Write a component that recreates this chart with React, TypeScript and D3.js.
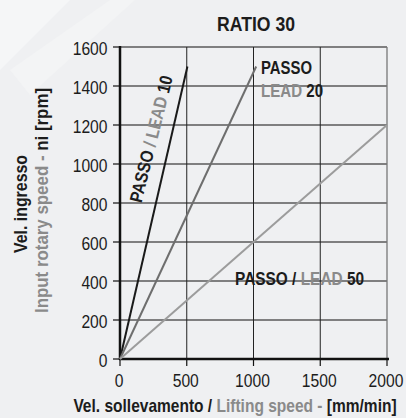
import React, { useLayoutEffect, useRef } from "react";
import * as d3 from "d3";

const xTicks = [0, 500, 1000, 1500, 2000];
const yTicks = [0, 200, 400, 600, 800, 1000, 1200, 1400, 1600];
const leads = ["10", "20", "50"];
const endSpeeds = [505, 1020, 2000];
const endRpm = [1500, 1500, 1200];
const lineColors = ["#1a1a1a", "#6e6e6e", "#9c9c9c"];

const W = 406, H = 418;
const FONT = "'Liberation Sans', Arial, sans-serif";
const DARK = "#1c1c1c";
const GRAY = "#8a8a8a";

type TProps = {
  x: number; y: number; w: number; size?: number; anchor?: string; weight?: string;
  rotate?: number; fill?: string; dy?: string; children: React.ReactNode;
};
// Text squeezed horizontally to a target width (condensed look)
function T({ x, y, w, size = 19, anchor = "start", weight = "normal", rotate = 0, fill = DARK, dy, children }: TProps) {
  const ref = useRef<SVGTextElement>(null);
  const base = `translate(${x},${y}) rotate(${rotate})`;
  useLayoutEffect(() => {
    const el = ref.current;
    if (!el) return;
    const nat = el.getBBox().width;
    const sx = nat > 0 ? w / nat : 1;
    el.setAttribute("transform", `${base} scale(${sx},1)`);
  });
  return (
    <text ref={ref} transform={`${base} scale(0.8,1)`} textAnchor={anchor} fontSize={size}
      fontWeight={weight} fill={fill} dy={dy}>
      {children}
    </text>
  );
}

export default function App() {
  const x = d3.scaleLinear().domain([0, 2000]).range([120, 387]);
  const y = d3.scaleLinear().domain([0, 1600]).range([359, 47]);
  const line = d3.line<[number, number]>().x(d => x(d[0])).y(d => y(d[1]));
  const digitW = (s: string) => s.length * 8.7;

  return (
    <svg width={W} height={H} style={{ position: "absolute", left: 0, top: 0 }} fontFamily={FONT}>
      <rect width={W} height={H} fill="#eff0f2" />
      <polygon points="0,0 70,0 0,70" fill="#f5f6f7" />
      <polygon points="10,70 110,0 135,0 30,95" fill="#f3f4f5" />
      {/* horizontal grid */}
      {yTicks.slice(1).map(t => (
        <line key={"h" + t} x1={x(0)} x2={x(2000)} y1={y(t)} y2={y(t)} stroke="#5a5a5a" strokeWidth={1.3} />
      ))}
      {/* vertical grid */}
      {xTicks.slice(1, 4).map(t => (
        <line key={"v" + t} x1={x(t)} x2={x(t)} y1={y(0)} y2={y(1600)} stroke="#222" strokeWidth={1} />
      ))}
      <line x1={x(2000)} x2={x(2000)} y1={y(0)} y2={y(1600)} stroke="#777" strokeWidth={1.3} />
      {/* axes */}
      <line x1={x(0)} x2={x(0)} y1={y(0) + 1} y2={y(1600) - 1} stroke="#111" strokeWidth={2.5} />
      <line x1={x(0) - 1} x2={x(2000) + 2} y1={y(0)} y2={y(0)} stroke="#111" strokeWidth={2.5} />
      {yTicks.map(t => (
        <g key={"yt" + t}>
          <line x1={x(0) - 7} x2={x(0)} y1={y(t)} y2={y(t)} stroke="#111" strokeWidth={1.2} />
          <T x={107.5} y={y(t) + 8} anchor="end" w={digitW(String(t))}>{t}</T>
        </g>
      ))}
      {xTicks.map(t => (
        <g key={"xt" + t}>
          <line x1={x(t)} x2={x(t)} y1={y(0)} y2={y(0) + 7} stroke="#111" strokeWidth={1.2} />
          <T x={x(t) - 1} y={387} anchor="middle" w={digitW(String(t))}>{t}</T>
        </g>
      ))}
      {/* series */}
      {leads.map((l, i) => (
        <path key={l} d={line([[0, 0], [endSpeeds[i], endRpm[i]]]) || ""} fill="none" stroke={lineColors[i]} strokeWidth={2} />
      ))}
      {/* labels */}
      <T x={151} y={139} w={130} size={18} rotate={-76} anchor="middle" weight="bold" dy="0.35em">
        <tspan fill={DARK}>PASSO </tspan><tspan fill={GRAY}>/ LEAD </tspan><tspan fill={DARK}>{leads[0]}</tspan>
      </T>
      <T x={261} y={74} w={51} weight="bold">PASSO</T>
      <T x={261} y={96.5} w={62} weight="bold">
        <tspan fill={GRAY}>LEAD </tspan><tspan fill={DARK}>{leads[1]}</tspan>
      </T>
      <T x={235} y={285} w={129} weight="bold">
        <tspan fill={DARK}>PASSO / </tspan><tspan fill={GRAY}>LEAD </tspan><tspan fill={DARK}>{leads[2]}</tspan>
      </T>
      {/* title */}
      <T x={256} y={31} w={78} size={21} anchor="middle" weight="bold">RATIO 30</T>
      {/* axis titles */}
      <T x={235} y={412} w={323} size={18} anchor="middle" weight="bold">
        <tspan fill={DARK}>Vel. sollevamento / </tspan><tspan fill={GRAY}>Lifting speed - </tspan><tspan fill={DARK}>[mm/min]</tspan>
      </T>
      <T x={27} y={204} w={98} size={18} rotate={-90} anchor="middle" weight="bold">Vel. ingresso</T>
      <T x={48} y={200.5} w={225} size={18} rotate={-90} anchor="middle" weight="bold">
        <tspan fill={GRAY}>Input rotary speed - </tspan><tspan fill={DARK}>ni [rpm]</tspan>
      </T>
    </svg>
  );
}
